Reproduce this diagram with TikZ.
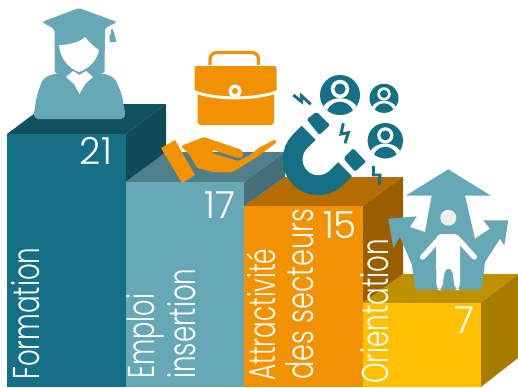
\documentclass[tikz,border=0pt]{standalone}
\usepackage{fontspec}
\setmainfont{Poppins Light}
\definecolor{tealD}{HTML}{156F86}\definecolor{tealDt}{HTML}{10505F}\definecolor{tealDs}{HTML}{0F4A59}
\definecolor{tealL}{HTML}{66A8B6}\definecolor{tealLt}{HTML}{4F7F8A}\definecolor{tealLs}{HTML}{466E78}
\definecolor{orng}{HTML}{F39200}\definecolor{orngt}{HTML}{B56D00}\definecolor{orngs}{HTML}{9A5D00}
\definecolor{yell}{HTML}{FFC000}\definecolor{yellt}{HTML}{BF9000}\definecolor{yells}{HTML}{A67D00}
\tikzset{
 lbl/.style={rotate=90,anchor=base west,text=white,inner sep=0pt,font=\fontsize{28}{28}\selectfont},
 num/.style={anchor=base,text=white,inner sep=0pt,font=\fontsize{28}{28}\selectfont},
 bolt/.style={draw=tealD,line width=2.2pt,line join=miter,fill=none},
}
\newcommand{\personicon}[3]{%
 \fill[tealD] (#1,#2) circle[radius=#3];
 \begin{scope}
 \clip (#1,#2) circle[radius=#3];
 \fill[white] (#1,#2)+(0,-0.3*#3) circle[radius=0.46*#3];
 \fill[tealD] (#1,#2)+(0,-0.3*#3) circle[radius=0.28*#3];
 \fill[white] (#1,#2)+(0,1.02*#3) ellipse[x radius=0.98*#3,y radius=0.86*#3];
 \fill[tealD] (#1,#2)+(0,1.12*#3) ellipse[x radius=0.72*#3,y radius=0.78*#3];
 \end{scope}}
\begin{document}
\begin{tikzpicture}[x=0.75pt,y=-0.75pt]
\useasboundingbox (0,0) rectangle (518,387);
\fill[white] (0,0) rectangle (518,387);
% box 4
\fill[yellt] (362.5,303)--(481,303)--(518,274)--(403,274)--cycle;
\fill[yells] (481,303)--(518,274)--(518,358)--(481,387)--cycle;
\fill[yell] (362.5,303) rectangle (481,387);
% box 3
\fill[orngt] (244,206)--(362.5,206)--(403,177)--(285,177)--cycle;
\fill[orngs] (362.5,206)--(403,177)--(403,274)--(362.5,303)--cycle;
\fill[orng] (244,206) rectangle (362.5,387);
% box 2
\fill[tealLt] (125.5,182)--(244,182)--(285,152)--(166,152)--cycle;
\fill[tealLs] (244,182)--(285,152)--(285,177)--(244,206)--cycle;
\fill[tealL] (125.5,182) rectangle (244,387);
% box 1
\fill[tealDt] (7,134)--(125.5,134)--(166,104)--(47,104)--cycle;
\fill[tealDs] (125.5,134)--(166,104)--(166,152)--(125.5,182)--cycle;
\fill[tealD] (7,134) rectangle (125.5,387);
% graduate
\fill[tealL,rounded corners=1.5pt] (79,8)--(117,22)--(105,28)--(104.5,73)--(54.5,73)--(54.5,29)--(42,22)--cycle;
\fill[tealL,rounded corners=4pt] (56,73)--(43,78)--(37,95)--(33,119)--(126,119)--(122,95)--(115,78)--(103,73)--cycle;
\fill[tealL] (110.5,29) rectangle (112.5,36);
\fill[tealL] (109.5,35)--(113.5,31)--(116.5,42)--(109.5,42)--cycle;
\fill[white] (59,45) .. controls (70,45) and (80,42) .. (85,37) .. controls (89,42) and (94,47) .. (99,50) .. controls (97,60) and (90,68) .. (79,72) .. controls (68,68) and (60,58) .. cycle;
\fill[white] (66,77)--(73,71)--(79.5,75)--(86,71)--(93,77)--(85,84)--(79.5,94)--(74,84)--cycle;
% briefcase
\draw[orng,line width=2.4pt,rounded corners=5pt] (210,65)--(210,52.5)--(258.5,52.5)--(258.5,65);
\fill[orng,rounded corners=1.5pt] (194.5,66) rectangle (276.5,93);
\fill[orng,rounded corners=2.5pt] (197.5,90) rectangle (274,125);
\draw[white,line width=2.2pt] (194,91.5) .. controls (215,100) and (255,100) .. (278,91.5);
\fill[white] (235,91) circle[radius=6.5];
\fill[orng] (235,91) circle[radius=3];
% hand
\fill[orng] (161,148)--(175,140)--(195,175)--(182,183)--cycle;
\fill[orng,rounded corners=1pt] (181,146)--(204,137)--(242,150)--(243,157)--(238,158)--(213,150)--(212,153)--(238,161)--(250,155)--(260,147)--(275,139.5)--(277,142)--(260,155)--(232,172.5)--(213,172)--(197,168)--(190,155)--cycle;
% magnet
\draw[tealD,line width=14.8pt] (308.6,132.8)--(300.1,141.3) .. controls (290.1,151.3) and (290.1,167.7) .. (300.1,177.7) .. controls (310.1,187.7) and (326.5,187.7) .. (336.5,177.7)--(345,169.2);
\fill[tealD,rounded corners=1.5pt] (306.7,119.3)--(316.7,111.7)--(330,125)--(319.3,135)--cycle;
\fill[tealD,rounded corners=1.5pt] (343.3,158.3)--(353.3,148.3)--(366,161.7)--(355,171.7)--cycle;
\draw[bolt] (293.3,95)--(301.7,101.7)--(301.7,96)--(310.7,104.3);
\draw[bolt] (343.3,123.3)--(341,134)--(348.3,132.7)--(345,143.3);
\draw[bolt] (373.3,166)--(373.3,175)--(380,175)--(379.3,185);
\personicon{340}{95}{20}
\personicon{384}{98.3}{14.5}
\personicon{385.3}{140.7}{17.7}
% orientation icon
\fill[tealL] (448.3,169.3)--(491,195.7)--(465,195.7)--(475,238.7)--(490,228.7)--(483.3,220.3)--(508.3,220.3)--(504.3,245.3)--(500,238.7)--(485,262)--(481.7,289.7)--(415,289.7)--(412,265)--(400,237)--(393.3,248)--(388.3,218.7)--(416.7,216.3)--(410,227)--(425,232)--(431.7,195.7)--(405.7,195.7)--cycle;
\fill[black!7] (448.3,217.7) circle[radius=8];
\fill[white,rounded corners=4pt] (436,234)--(460,234)--(460,250)--(460,290)--(455,290)--(452,268)--(445,268)--(442,290)--(436.5,290)--(436,250)--cycle;
\draw[white,line width=4pt,line cap=round] (440,238)--(422.7,257);
\draw[white,line width=4pt,line cap=round] (457,238)--(474.3,257);
% labels
\node[lbl] (lf) at (40,380) {\scalebox{0.70}[1]{Formation}};
\node[lbl] (le) at (154.3,379) {\scalebox{0.69}[1]{Emploi}};
\node[lbl] (li) at (195.7,379) {\scalebox{0.70}[1]{insertion}};
\node[lbl] (la) at (275,381) {\scalebox{0.66}[1]{Attractivité}};
\node[lbl] (ld) at (313,380) {\scalebox{0.725}[1]{des secteurs}};
\node[lbl] (lo) at (388.3,384) {\scalebox{0.70}[1]{Orientation}};
\node[num] (n1) at (96,164) {21};
\node[num] (n2) at (220,218) {17};
\node[num] (n3) at (340,238) {15};
\node[num] (n4) at (464,333.5) {7};
\end{tikzpicture}
\end{document}
